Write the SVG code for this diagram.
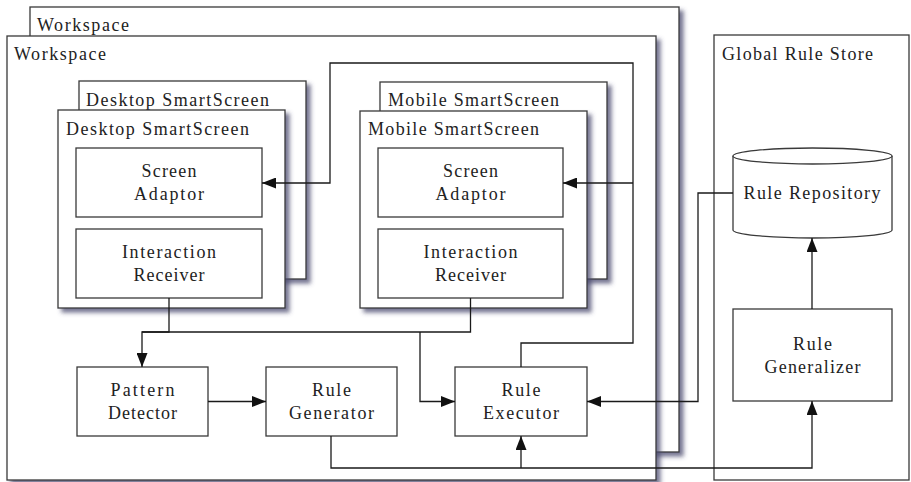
<svg xmlns="http://www.w3.org/2000/svg" width="911" height="482" viewBox="0 0 911 482">
<style>
.box{fill:#fff;stroke:#3a3a3a;stroke-width:1.3}
.sh{filter:url(#shadow)}
.t{font-family:'Liberation Serif','DejaVu Serif',serif;font-size:18px;fill:#222}
.c{text-anchor:middle}
.ln{fill:none;stroke:#1a1a1a;stroke-width:1.3}
</style>
<defs>
<filter id="shadow" x="-5%" y="-5%" width="115%" height="115%">
<feGaussianBlur in="SourceAlpha" stdDeviation="2.2"/>
<feOffset dx="3.5" dy="3.5" result="b"/>
<feFlood flood-color="#4a4a6e" flood-opacity="0.75"/>
<feComposite in2="b" operator="in" result="s"/>
<feMerge><feMergeNode in="s"/><feMergeNode in="SourceGraphic"/></feMerge>
</filter>
<marker id="arr" markerUnits="userSpaceOnUse" markerWidth="15" markerHeight="11" refX="14" refY="5.5" orient="auto">
<path d="M0,0 L14,5.5 L0,11 z" fill="#111"/>
</marker>
</defs>

<g id="workspace-back">
<rect class="box sh" x="30" y="7" width="649" height="445"/>
<text class="t" x="37" y="31" textLength="92" lengthAdjust="spacing">Workspace</text>
</g>
<g id="workspace-front">
<rect class="box sh" x="7" y="36" width="649" height="444"/>
<text class="t" x="14" y="60" textLength="92" lengthAdjust="spacing">Workspace</text>
</g>
<g id="global-rule-store">
<rect class="box" x="714" y="35" width="195" height="445"/>
<text class="t" x="722" y="60" textLength="151" lengthAdjust="spacing">Global Rule Store</text>
</g>

<g id="desktop-back">
<rect class="box sh" x="79" y="81" width="227" height="198"/>
<text class="t" x="86" y="106" textLength="183" lengthAdjust="spacing">Desktop SmartScreen</text>
</g>
<g id="desktop-front">
<rect class="box sh" x="58" y="110" width="227" height="198"/>
<text class="t" x="66" y="135" textLength="183" lengthAdjust="spacing">Desktop SmartScreen</text>
</g>
<g id="desktop-screen-adaptor">
<rect class="box" x="76" y="148" width="186" height="69"/>
<text class="t c" x="169" y="177" textLength="55" lengthAdjust="spacing">Screen</text>
<text class="t c" x="169" y="200" textLength="70" lengthAdjust="spacing">Adaptor</text>
</g>
<g id="desktop-interaction-receiver">
<rect class="box" x="76" y="229" width="186" height="69"/>
<text class="t c" x="169" y="258" textLength="94" lengthAdjust="spacing">Interaction</text>
<text class="t c" x="169" y="281" textLength="71" lengthAdjust="spacing">Receiver</text>
</g>

<g id="mobile-back">
<rect class="box sh" x="380" y="82" width="227" height="197"/>
<text class="t" x="388" y="106" textLength="171" lengthAdjust="spacing">Mobile SmartScreen</text>
</g>
<g id="mobile-front">
<rect class="box sh" x="360" y="111" width="227" height="197"/>
<text class="t" x="368" y="135" textLength="171" lengthAdjust="spacing">Mobile SmartScreen</text>
</g>
<g id="mobile-screen-adaptor">
<rect class="box" x="378" y="148" width="185" height="69"/>
<text class="t c" x="470.5" y="177" textLength="55" lengthAdjust="spacing">Screen</text>
<text class="t c" x="470.5" y="200" textLength="70" lengthAdjust="spacing">Adaptor</text>
</g>
<g id="mobile-interaction-receiver">
<rect class="box" x="378" y="229" width="185" height="69"/>
<text class="t c" x="470.5" y="258" textLength="94" lengthAdjust="spacing">Interaction</text>
<text class="t c" x="470.5" y="281" textLength="71" lengthAdjust="spacing">Receiver</text>
</g>

<g id="pattern-detector">
<rect class="box" x="77" y="367" width="131" height="69"/>
<text class="t c" x="142.5" y="396" textLength="64" lengthAdjust="spacing">Pattern</text>
<text class="t c" x="142.5" y="419" textLength="69" lengthAdjust="spacing">Detector</text>
</g>
<g id="rule-generator">
<rect class="box" x="266" y="367" width="131" height="69"/>
<text class="t c" x="331.5" y="396" textLength="39" lengthAdjust="spacing">Rule</text>
<text class="t c" x="331.5" y="419" textLength="85" lengthAdjust="spacing">Generator</text>
</g>
<g id="rule-executor">
<rect class="box" x="455" y="367" width="132" height="69"/>
<text class="t c" x="521" y="396" textLength="39" lengthAdjust="spacing">Rule</text>
<text class="t c" x="521" y="419" textLength="76" lengthAdjust="spacing">Executor</text>
</g>

<g id="rule-repository">
<path class="box" d="M733,156 L733,230 A79.5,8 0 0 0 892,230 L892,156"/>
<ellipse class="box" cx="812.5" cy="156" rx="79.5" ry="8"/>
<text class="t c" x="812" y="199" textLength="137" lengthAdjust="spacing">Rule Repository</text>
</g>
<g id="rule-generalizer">
<rect class="box" x="733" y="309" width="159" height="92"/>
<text class="t c" x="812.5" y="350" textLength="39" lengthAdjust="spacing">Rule</text>
<text class="t c" x="812.5" y="373" textLength="96" lengthAdjust="spacing">Generalizer</text>
</g>

<g id="connectors">
<path class="ln" d="M169,298 V332 H142 V367" marker-end="url(#arr)"/>
<path class="ln" d="M142,332 H470.5 V298"/>
<path class="ln" d="M420,332 V401.5 H455" marker-end="url(#arr)"/>
<path class="ln" d="M208,401.5 H266" marker-end="url(#arr)"/>
<path class="ln" d="M331,436 V468 H812 V401" marker-end="url(#arr)"/>
<path class="ln" d="M521,468 V436" marker-end="url(#arr)"/>
<path class="ln" d="M521,367 V343 H633 V63 H330 V183 H262" marker-end="url(#arr)"/>
<path class="ln" d="M633,183 H563" marker-end="url(#arr)"/>
<path class="ln" d="M733,193 H698 V401.5 H587" marker-end="url(#arr)"/>
<path class="ln" d="M812,309 V238" marker-end="url(#arr)"/>
</g>
</svg>
